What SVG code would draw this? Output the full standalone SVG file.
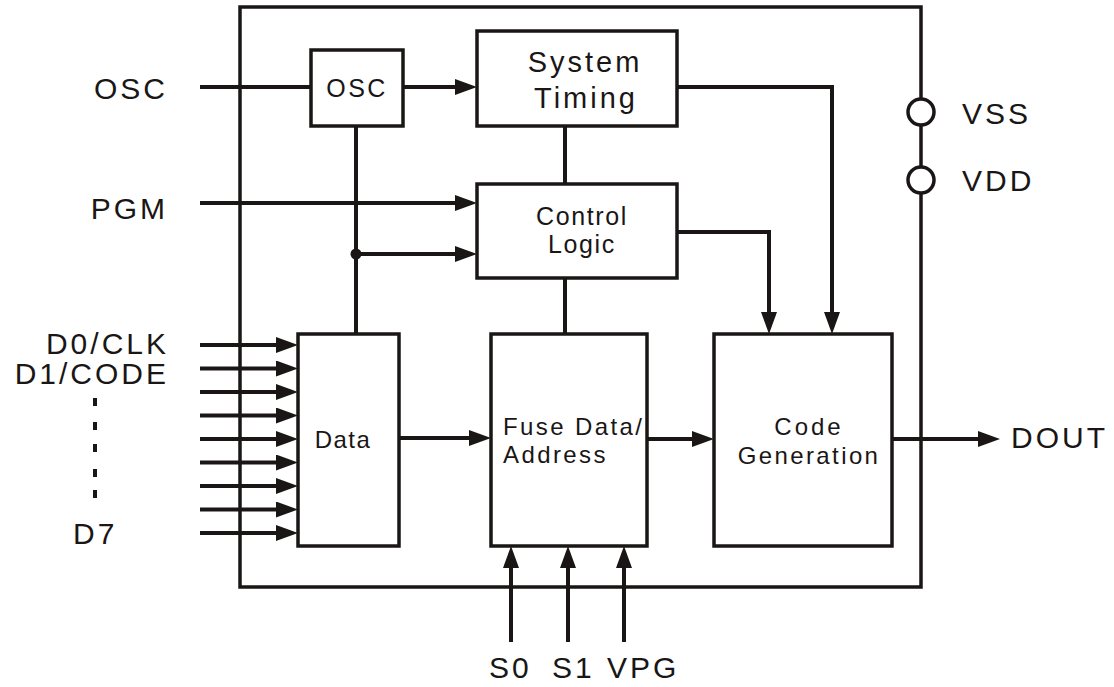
<svg xmlns="http://www.w3.org/2000/svg" width="1114" height="687" viewBox="0 0 1114 687">
<style>
.box{fill:#fff;stroke:#1a1616;stroke-width:3.5}
.w{fill:none;stroke:#1a1616;stroke-width:4}
.thin{fill:none;stroke:#1a1616;stroke-width:3.5}
.lab{font-family:"Liberation Sans",Arial,sans-serif;font-size:30px;letter-spacing:3px;fill:#1a1616}
.bt{font-family:"Liberation Sans",Arial,sans-serif;font-size:24px;letter-spacing:2.4px;fill:#1a1616}
.pin{fill:#fff;stroke:#1a1616;stroke-width:3.5}
</style>
<defs>
<marker id="ah" markerUnits="userSpaceOnUse" markerWidth="22" markerHeight="16" refX="10" refY="8" orient="auto" viewBox="0 0 22 16">
<path d="M0,0 L22,8 L0,16 z" fill="#1a1616"/>
</marker>
</defs>
<rect width="1114" height="687" fill="#fff"/>
<g id="chip">
<path class="thin" d="M921,99 V7 H240 V587 H921 V193 M921,126 V167"/>
</g>
<g id="connectors">
<line class="w" x1="200" y1="87" x2="311" y2="87"/>
<line class="w" x1="403" y1="87" x2="465" y2="87" marker-end="url(#ah)"/>
<line class="w" x1="200" y1="203" x2="465" y2="203" marker-end="url(#ah)"/>
<line class="w" x1="356" y1="126" x2="356" y2="334"/>
<line class="w" x1="356" y1="254" x2="465" y2="254" marker-end="url(#ah)"/>
<circle cx="356" cy="254" r="5.5" fill="#1a1616"/>
<line class="w" x1="565" y1="126" x2="565" y2="184"/>
<line class="w" x1="565" y1="278" x2="565" y2="334"/>
<polyline class="w" points="677,87 832,87 832,322" marker-end="url(#ah)"/>
<polyline class="w" points="677,232 769,232 769,322" marker-end="url(#ah)"/>
<line class="w" x1="200" y1="345" x2="286" y2="345" marker-end="url(#ah)"/>
<line class="w" x1="200" y1="368.5" x2="286" y2="368.5" marker-end="url(#ah)"/>
<line class="w" x1="200" y1="392" x2="286" y2="392" marker-end="url(#ah)"/>
<line class="w" x1="200" y1="415.5" x2="286" y2="415.5" marker-end="url(#ah)"/>
<line class="w" x1="200" y1="439" x2="286" y2="439" marker-end="url(#ah)"/>
<line class="w" x1="200" y1="462.5" x2="286" y2="462.5" marker-end="url(#ah)"/>
<line class="w" x1="200" y1="486" x2="286" y2="486" marker-end="url(#ah)"/>
<line class="w" x1="200" y1="509.5" x2="286" y2="509.5" marker-end="url(#ah)"/>
<line class="w" x1="200" y1="533" x2="286" y2="533" marker-end="url(#ah)"/>
<line class="w" x1="399" y1="438" x2="479" y2="438" marker-end="url(#ah)"/>
<line class="w" x1="647" y1="439" x2="702" y2="439" marker-end="url(#ah)"/>
<line class="w" x1="892" y1="439" x2="988" y2="439" marker-end="url(#ah)"/>
<line class="w" x1="511" y1="642" x2="511" y2="558" marker-end="url(#ah)"/>
<line class="w" x1="568" y1="642" x2="568" y2="558" marker-end="url(#ah)"/>
<line class="w" x1="624" y1="642" x2="624" y2="558" marker-end="url(#ah)"/>
</g>
<g id="osc">
<rect class="box" x="311" y="50" width="92" height="76"/>
<text class="bt" x="357" y="97" text-anchor="middle" style="font-size:25px">OSC</text>
</g>
<g id="system-timing">
<rect class="box" x="477" y="31" width="200" height="95"/>
<text class="lab" x="585" y="72" text-anchor="middle" style="font-size:29px">System</text>
<text class="lab" x="586" y="108" text-anchor="middle" style="font-size:29px">Timing</text>
</g>
<g id="control-logic">
<rect class="box" x="477" y="184" width="200" height="94"/>
<text class="bt" x="582" y="225" text-anchor="middle" style="font-size:25px;letter-spacing:1.6px">Control</text>
<text class="bt" x="582" y="253" text-anchor="middle" style="font-size:25px;letter-spacing:1.6px">Logic</text>
</g>
<g id="data">
<rect class="box" x="298" y="334" width="101" height="212"/>
<text class="bt" x="343" y="448" text-anchor="middle" style="letter-spacing:1.5px">Data</text>
</g>
<g id="fuse">
<rect class="box" x="491" y="334" width="156" height="212"/>
<text class="bt" x="503" y="435">Fuse Data/</text>
<text class="bt" x="503" y="463">Address</text>
</g>
<g id="code-gen">
<rect class="box" x="714" y="334" width="178" height="212"/>
<text class="bt" x="809" y="435" text-anchor="middle" style="letter-spacing:3px">Code</text>
<text class="bt" x="809" y="464" text-anchor="middle">Generation</text>
</g>
<g id="pins">
<circle class="pin" cx="921" cy="112" r="13"/>
<circle class="pin" cx="921" cy="180" r="13"/>
<text class="lab" x="962" y="124">VSS</text>
<text class="lab" x="962" y="191">VDD</text>
</g>
<g id="labels">
<text class="lab" x="168" y="99" text-anchor="end">OSC</text>
<text class="lab" x="168" y="219" text-anchor="end">PGM</text>
<text class="lab" x="169" y="354" text-anchor="end">D0/CLK</text>
<text class="lab" x="169" y="384" text-anchor="end">D1/CODE</text>
<text class="lab" x="73" y="544">D7</text>
<text class="lab" x="1011" y="448">DOUT</text>
<text class="lab" x="489" y="678">S0</text>
<text class="lab" x="552" y="678">S1</text>
<text class="lab" x="607" y="678">VPG</text>
<g fill="#1a1616">
<rect x="93" y="398" width="4" height="8"/>
<rect x="93" y="422" width="4" height="8"/>
<rect x="93" y="444" width="4" height="8"/>
<rect x="93" y="469" width="4" height="8"/>
<rect x="93" y="490" width="4" height="8"/>
</g>
</g>
</svg>
